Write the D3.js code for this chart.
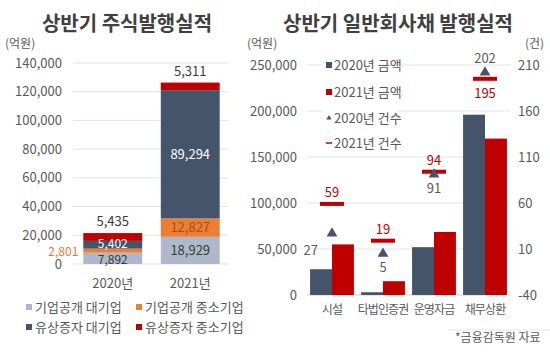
<!DOCTYPE html>
<html><head><meta charset="utf-8">
<script src="https://cdn.jsdelivr.net/npm/d3@7"></script>
<style>
body{margin:0;background:#fff;}
svg text{font-family:"Noto Sans CJK KR","Noto Sans",sans-serif;}
</style></head>
<body><svg id="c" width="550" height="357"></svg>
<script>
// ---- Left chart data ----
const stockYears = ["2020년", "2021년"];
const stockSeries = ["기업공개 대기업", "기업공개 중소기업", "유상증자 대기업", "유상증자 중소기업"];
const ipoLarge = [7892, 18929];
const ipoSmall = [2801, 12827];
const rightsLarge = [5402, 89294];
const rightsSmall = [5435, 5311];
const stockTicks = [0, 20000, 40000, 60000, 80000, 100000, 120000, 140000];

// ---- Right chart data ----
const bondCats = ["시설", "타법인증권", "운영자금", "채무상환"];
const amount2020 = [28000, 3000, 52000, 196000];
const amount2021 = [55000, 15000, 68500, 170000];
const count2020 = [27, 5, 91, 202];
const count2021 = [59, 19, 94, 195];
const amountTicks = [0, 50000, 100000, 150000, 200000, 250000];
const countTicks = [-40, 10, 60, 110, 160, 210];
const bondLegend = ["2020년 금액", "2021년 금액", "2020년 건수", "2021년 건수"];

const C_LIGHT = "#adb9ca", C_ORANGE = "#ed7d31", C_DARK = "#44546a", C_RED = "#c00000";
const TXT = "#595959", GRID = "#e3e3e3";
const fmt = d3.format(",");

const svg = d3.select("#c");

// ================= LEFT CHART =================
const L = svg.append("g");
L.append("text").attr("x", 127).attr("y", 31).attr("text-anchor", "middle")
  .attr("font-size", 20).attr("font-weight", "bold").attr("fill", "#404040").text("상반기 주식발행실적");
L.append("text").attr("x", 5).attr("y", 48).attr("font-size", 12).attr("fill", TXT).text("(억원)");

const yS = d3.scaleLinear().domain([0, 140000]).range([264, 63]);
const xS = d3.scaleBand().domain(stockYears).range([74, 229]).paddingInner(0.24).paddingOuter(0.12);

L.selectAll(".g").data(stockTicks).join("line")
  .attr("x1", 73).attr("x2", 228).attr("y1", d => yS(d)).attr("y2", d => yS(d))
  .attr("stroke", GRID).attr("stroke-width", 1);
L.selectAll(".t").data(stockTicks).join("text")
  .attr("x", 62).attr("y", d => yS(d)).attr("dy", "0.35em").attr("text-anchor", "end")
  .attr("font-size", 13).attr("fill", TXT).text(d => fmt(d));

const stockRows = stockYears.map((y, i) => ({ year: y, s0: ipoLarge[i], s1: ipoSmall[i], s2: rightsLarge[i], s3: rightsSmall[i] }));
const stack = d3.stack().keys(["s0", "s1", "s2", "s3"])(stockRows);
const stockColors = [C_LIGHT, C_ORANGE, C_DARK, C_RED];
stack.forEach((layer, k) => {
  L.selectAll(null).data(layer).join("rect")
    .attr("x", d => xS(d.data.year)).attr("width", xS.bandwidth())
    .attr("y", d => yS(d[1])).attr("height", d => yS(d[0]) - yS(d[1]))
    .attr("fill", stockColors[k]);
});
// value labels
stockYears.forEach((yr, i) => {
  const cx = xS(yr) + xS.bandwidth() / 2;
  const s = stack.map(l => l[i]);
  const mid = d => yS((d[0] + d[1]) / 2);
  const fs = i === 0 ? 12 : 13;
  L.append("text").attr("x", cx).attr("y", mid(s[0]) + (i === 0 ? 1 : 0)).attr("dy", "0.35em").attr("text-anchor", "middle")
    .attr("font-size", fs).attr("fill", "#3a3a3a").text(fmt(ipoLarge[i]));
  if (i === 0) {
    L.append("text").attr("x", xS(yr) - 5).attr("y", mid(s[1]) + 1).attr("dy", "0.35em").attr("text-anchor", "end")
      .attr("font-size", 12).attr("fill", "#e07b39").text(fmt(ipoSmall[i]));
  } else {
    L.append("text").attr("x", cx).attr("y", mid(s[1])).attr("dy", "0.35em").attr("text-anchor", "middle")
      .attr("font-size", 13).attr("fill", "#a8501a").text(fmt(ipoSmall[i]));
  }
  L.append("text").attr("x", cx).attr("y", mid(s[2]) - (i === 0 ? 1 : 0)).attr("dy", "0.35em").attr("text-anchor", "middle")
    .attr("font-size", fs).attr("fill", "#fff").text(fmt(rightsLarge[i]));
  L.append("text").attr("x", cx).attr("y", yS(s[3][1]) - 7).attr("text-anchor", "middle")
    .attr("font-size", 13).attr("fill", "#3a3a3a").text(fmt(rightsSmall[i]));
  L.append("text").attr("x", cx).attr("y", 283).attr("dy", "0.35em").attr("text-anchor", "middle")
    .attr("font-size", 13).attr("fill", TXT).text(yr);
});
// legend
stockSeries.forEach((s, k) => {
  const col = k % 2, row = Math.floor(k / 2);
  const lx = col === 0 ? 26 : 136, ly = row === 0 ? 307 : 327;
  L.append("rect").attr("x", lx).attr("y", ly - 3).attr("width", 6).attr("height", 6).attr("fill", stockColors[k]);
  L.append("text").attr("x", lx + 9).attr("y", ly).attr("dy", "0.35em").attr("font-size", 13).attr("fill", TXT).text(s);
});

// ================= RIGHT CHART =================
const R = svg.append("g");
R.append("text").attr("x", 398).attr("y", 31).attr("text-anchor", "middle")
  .attr("font-size", 20).attr("font-weight", "bold").attr("fill", "#404040").text("상반기 일반회사채 발행실적");
R.append("text").attr("x", 247).attr("y", 48).attr("font-size", 12).attr("fill", TXT).text("(억원)");
R.append("text").attr("x", 525).attr("y", 48).attr("font-size", 12).attr("fill", TXT).text("(건)");

const yA = d3.scaleLinear().domain([0, 250000]).range([295, 65]);
const yC = d3.scaleLinear().domain([-40, 210]).range([295, 65]);
const xB = d3.scaleBand().domain(bondCats).range([307, 510]).paddingInner(0.14).paddingOuter(0.06);
const xIn = d3.scaleBand().domain(["a", "b"]).range([0, xB.bandwidth()]);

R.selectAll(null).data(amountTicks).join("line")
  .attr("x1", 307).attr("x2", 510).attr("y1", d => yA(d)).attr("y2", d => yA(d))
  .attr("stroke", d => d === 0 ? "#d0d0d0" : GRID).attr("stroke-width", 1);
R.selectAll(null).data(amountTicks).join("text")
  .attr("x", 297).attr("y", d => yA(d)).attr("dy", "0.35em").attr("text-anchor", "end")
  .attr("font-size", 13).attr("fill", TXT).text(d => fmt(d));
R.selectAll(null).data(countTicks).join("text")
  .attr("x", 518).attr("y", d => yC(d)).attr("dy", "0.35em").attr("text-anchor", "start")
  .attr("font-size", 13).attr("fill", TXT).text(d => d);

// legend (drawn before marks, with white background)
const legY = [65, 92, 118, 143];
R.append("rect").attr("x", 323).attr("y", 56).attr("width", 74).attr("height", 96).attr("fill", "#fff");
bondLegend.forEach((s, k) => {
  const ly = legY[k], lx = 326;
  if (k === 0 || k === 1) {
    R.append("rect").attr("x", lx).attr("y", ly - 3).attr("width", 6).attr("height", 6).attr("fill", k === 0 ? C_DARK : C_RED);
  } else if (k === 2) {
    R.append("path").attr("d", d3.symbol(d3.symbolTriangle, 12)()).attr("transform", `translate(${lx + 3},${ly})`).attr("fill", C_DARK);
  } else {
    R.append("rect").attr("x", lx).attr("y", ly - 0.75).attr("width", 6).attr("height", 1.5).attr("fill", C_RED);
  }
  R.append("text").attr("x", lx + 8).attr("y", ly).attr("dy", "0.35em").attr("font-size", 13).attr("fill", TXT).text(s);
});

bondCats.forEach((c, i) => {
  const x0 = xB(c);
  R.append("rect").attr("x", x0 + xIn("a")).attr("width", xIn.bandwidth())
    .attr("y", yA(amount2020[i])).attr("height", yA(0) - yA(amount2020[i])).attr("fill", C_DARK);
  R.append("rect").attr("x", x0 + xIn("b")).attr("width", xIn.bandwidth())
    .attr("y", yA(amount2021[i])).attr("height", yA(0) - yA(amount2021[i])).attr("fill", C_RED);
  R.append("text").attr("x", x0 + xB.bandwidth() / 2).attr("y", 310).attr("dy", "0.35em").attr("text-anchor", "middle")
    .attr("font-size", 12).attr("letter-spacing", -0.9).attr("fill", TXT).text(c);
});

// count markers
bondCats.forEach((c, i) => {
  const cx = xB(c) + xB.bandwidth() / 2;
  const y20 = yC(count2020[i]), y21 = yC(count2021[i]);
  R.append("rect").attr("x", cx - 12).attr("y", y21 - 2).attr("width", 24).attr("height", 4).attr("fill", C_RED);
  R.append("path").attr("d", d3.symbol(d3.symbolTriangle, 50)()).attr("transform", `translate(${cx},${y20})`).attr("fill", C_DARK);
  // 2021 count labels
  const above21 = i !== 3;
  R.append("text").attr("x", cx).attr("y", above21 ? y21 - 11 : y21 + 15).attr("dy", "0.35em").attr("text-anchor", "middle")
    .attr("font-size", 13).attr("fill", C_RED).text(count2021[i]);
  // 2020 count labels
  let lx = cx, ly = y20 + 14, anchor = "middle";
  if (i === 0) { lx = cx - 14; ly = y20 + 17; anchor = "end"; }
  if (i === 3) { ly = y20 - 14; }
  R.append("text").attr("x", lx).attr("y", ly).attr("dy", "0.35em").attr("text-anchor", anchor)
    .attr("font-size", 13).attr("fill", TXT).text(count2020[i]);
});

// source note
svg.append("line").attr("x1", 448).attr("x2", 550).attr("y1", 330).attr("y2", 330).attr("stroke", "#e3e3e3");
svg.append("text").attr("x", 455).attr("y", 338).attr("dy", "0.35em").attr("font-size", 12).attr("fill", TXT).text("*금융감독원 자료");
</script></body></html>
